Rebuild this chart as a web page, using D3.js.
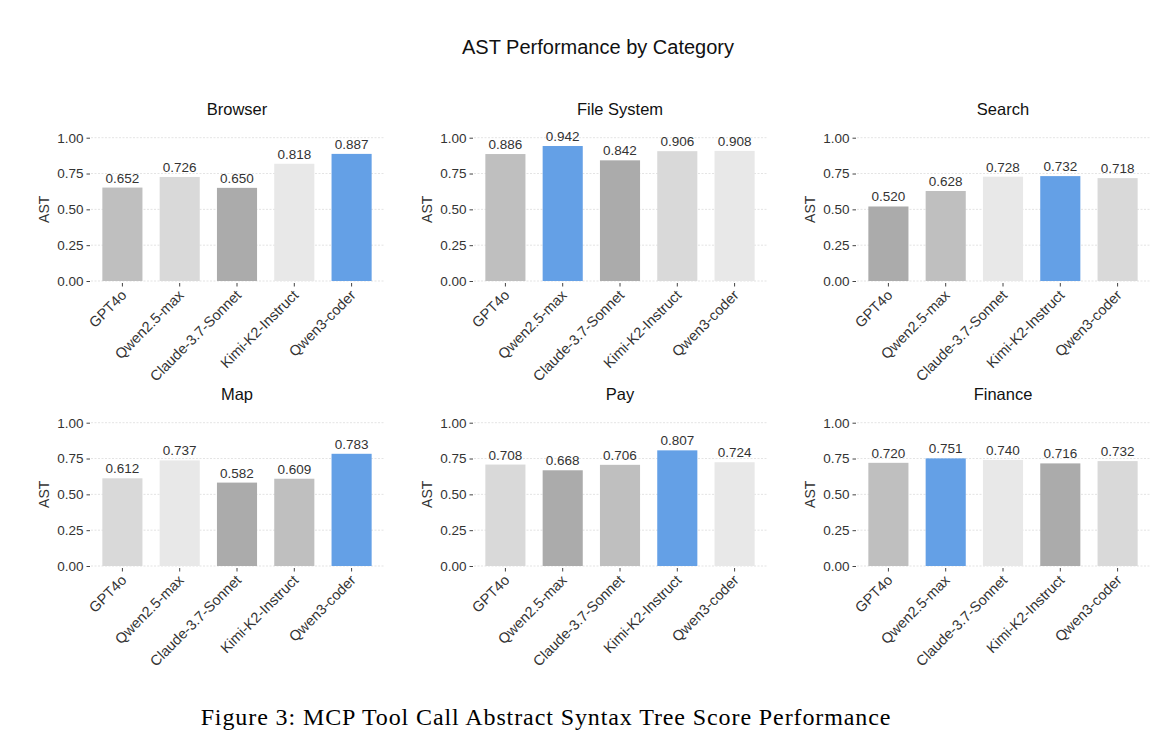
<!DOCTYPE html>
<html>
<head>
<meta charset="utf-8">
<script src="https://cdn.jsdelivr.net/npm/d3@7"></script>
<style>
  body { margin: 0; background: #fff; }
  svg { font-family: "Liberation Sans", Arial, sans-serif; }
</style>
</head>
<body>
<div id="chart"></div>
<script>
        // Data
        const models = ["GPT4o", "Qwen2.5-max", "Claude-3.7-Sonnet", "Kimi-K2-Instruct", "Qwen3-coder"];
        const categories = ["Browser", "File System", "Search", "Map", "Pay", "Finance"];
        const browser = [0.652, 0.726, 0.650, 0.818, 0.887];
        const fileSystem = [0.886, 0.942, 0.842, 0.906, 0.908];
        const search = [0.520, 0.628, 0.728, 0.732, 0.718];
        const map = [0.612, 0.737, 0.582, 0.609, 0.783];
        const pay = [0.708, 0.668, 0.706, 0.807, 0.724];
        const finance = [0.720, 0.751, 0.740, 0.716, 0.732];
        const yTicks = [0, 0.25, 0.5, 0.75, 1.0];

        const seriesByCategory = [browser, fileSystem, search, map, pay, finance];

        // Set up the dimensions
        const width = 1167;
        const height = 746;
        const panelLeft = [89, 472, 855];
        const panelWidth = 296;
        const rowZero = [281, 566];
        const rowOne = [137.7, 422.7];

        // colours by rank inside each panel: lowest darkest, best in blue
        const rankColors = ["#ababab", "#bfbfbf", "#d9d9d9", "#e8e8e8", "#64a0e6"];

        const svg = d3.select("#chart")
            .append("svg")
            .attr("width", width)
            .attr("height", height);

        // Main title
        svg.append("text")
            .attr("x", 598)
            .attr("y", 54)
            .attr("text-anchor", "middle")
            .attr("font-size", 20)
            .attr("fill", "#111")
            .text("AST Performance by Category");

        categories.forEach(function (cat, i) {
            const col = i % 3;
            const row = Math.floor(i / 3);
            const values = seriesByCategory[i];
            const left = panelLeft[col];

            const x = d3.scaleBand()
                .domain(models)
                .range([left, left + panelWidth])
                .paddingInner(0.3)
                .paddingOuter(0.233);

            const y = d3.scaleLinear()
                .domain([0, 1])
                .range([rowZero[row], rowOne[row]]);

            const sorted = values.slice().sort(d3.ascending);
            const g = svg.append("g");

            // Gridlines
            g.selectAll(".grid")
                .data(yTicks)
                .join("line")
                .attr("x1", left + 2)
                .attr("x2", left + panelWidth)
                .attr("y1", d => y(d))
                .attr("y2", d => y(d))
                .attr("stroke", "#dcdcdc")
                .attr("stroke-width", 0.8)
                .attr("stroke-dasharray", "2,1.5");

            // Y axis (ticks + labels, no domain line)
            const yAxis = g.append("g")
                .attr("transform", `translate(${left + 1}, 0)`)
                .call(d3.axisLeft(y).tickValues(yTicks).tickFormat(d3.format(".2f")).tickSize(3.5).tickPadding(3));
            yAxis.select(".domain").remove();
            yAxis.selectAll("line").attr("stroke", "#444");
            yAxis.selectAll("text")
                .attr("font-size", 13.5)
                .attr("font-family", null)
                .attr("fill", "#333");

            // X axis ticks
            const xAxis = g.append("g")
                .attr("transform", `translate(0, ${rowZero[row] + 2})`)
                .call(d3.axisBottom(x).tickSize(3.5).tickFormat(""));
            xAxis.select(".domain").remove();
            xAxis.selectAll("line").attr("stroke", "#444");

            // Rotated category labels
            g.selectAll(".xlab")
                .data(models)
                .join("text")
                .attr("transform", d => `translate(${x(d) + x.bandwidth() / 2 + 3}, ${rowZero[row] + 13}) rotate(-45)`)
                .attr("text-anchor", "end")
                .attr("dy", "0.2em")
                .attr("font-size", 14.5)
                .attr("fill", "#333")
                .text(d => d);

            // Bars
            g.selectAll(".bar")
                .data(values)
                .join("rect")
                .attr("x", (d, j) => x(models[j]))
                .attr("y", d => y(d))
                .attr("width", x.bandwidth())
                .attr("height", d => y(0) - y(d))
                .attr("fill", d => rankColors[sorted.indexOf(d)]);

            // Value labels
            g.selectAll(".val")
                .data(values)
                .join("text")
                .attr("x", (d, j) => x(models[j]) + x.bandwidth() / 2)
                .attr("y", d => y(d) - 5)
                .attr("text-anchor", "middle")
                .attr("font-size", 13.5)
                .attr("fill", "#333")
                .text(d => d3.format(".3f")(d));

            // Panel title
            g.append("text")
                .attr("x", left + panelWidth / 2)
                .attr("y", rowOne[row] - 23)
                .attr("text-anchor", "middle")
                .attr("font-size", 16.5)
                .attr("fill", "#111")
                .text(cat);

            // Y axis label
            g.append("text")
                .attr("transform", "rotate(-90)")
                .attr("x", -(rowZero[row] + rowOne[row]) / 2)
                .attr("y", left - 40)
                .attr("text-anchor", "middle")
                .attr("font-size", 14)
                .attr("fill", "#333")
                .text("AST");
        });

        // Figure caption
        svg.append("text")
            .attr("x", 546)
            .attr("y", 725)
            .attr("text-anchor", "middle")
            .style("font-family", "'Liberation Serif', 'Times New Roman', serif")
            .style("letter-spacing", "0.9px")
            .attr("font-size", 24)
            .attr("fill", "#000")
            .text("Figure 3: MCP Tool Call Abstract Syntax Tree Score Performance");
</script>
</body>
</html>
